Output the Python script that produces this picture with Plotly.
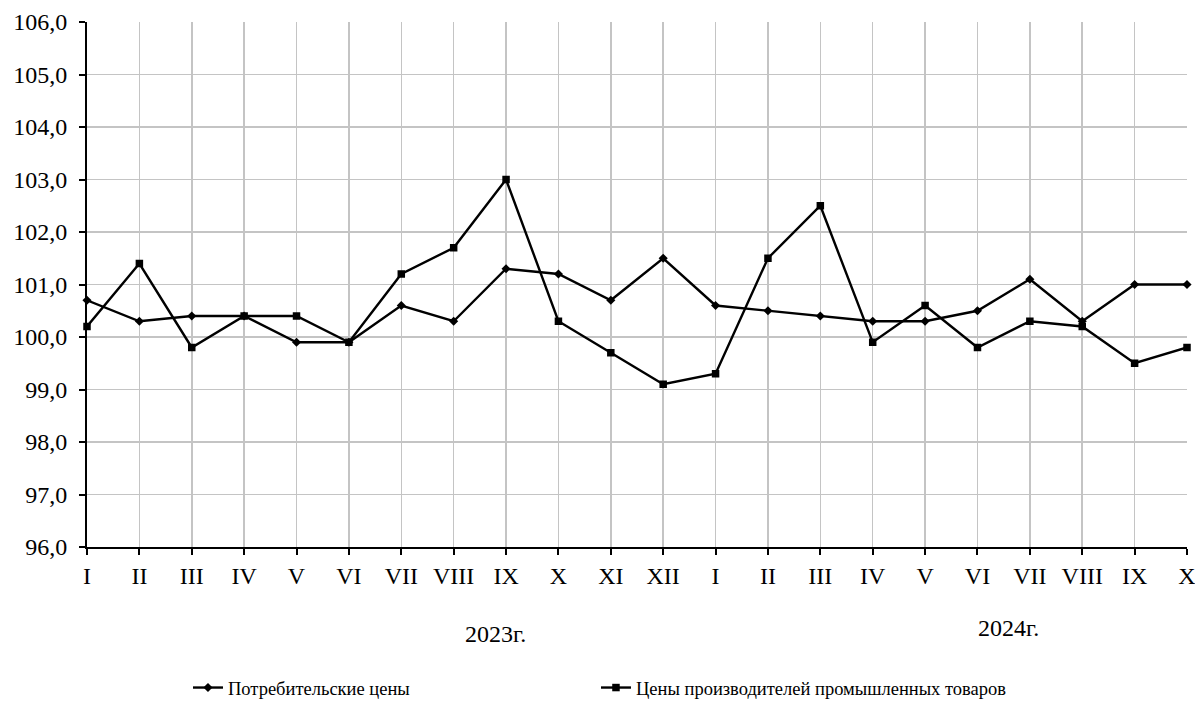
import plotly.graph_objects as go

months = ["I", "II", "III", "IV", "V", "VI", "VII", "VIII", "IX", "X", "XI", "XII",
          "I", "II", "III", "IV", "V", "VI", "VII", "VIII", "IX", "X"]
cpi = [100.7, 100.3, 100.4, 100.4, 99.9, 99.9, 100.6, 100.3, 101.3, 101.2, 100.7, 101.5,
       100.6, 100.5, 100.4, 100.3, 100.3, 100.5, 101.1, 100.3, 101.0, 101.0]
ppi = [100.2, 101.4, 99.8, 100.4, 100.4, 99.9, 101.2, 101.7, 103.0, 100.3, 99.7, 99.1,
       99.3, 101.5, 102.5, 99.9, 100.6, 99.8, 100.3, 100.2, 99.5, 99.8]
y_ticks = [96, 97, 98, 99, 100, 101, 102, 103, 104, 105, 106]
y_tick_labels = ["96,0", "97,0", "98,0", "99,0", "100,0", "101,0", "102,0", "103,0", "104,0", "105,0", "106,0"]
series_names = ["Потребительские цены", "Цены производителей промышленных товаров"]
year_labels = ["2023г.", "2024г."]

x = list(range(len(months)))
FONT = "Liberation Serif, Times New Roman, serif"

fig = go.Figure()
fig.add_trace(go.Scatter(x=x, y=cpi, mode="lines+markers", name=series_names[0],
                         line=dict(color="black", width=2.4),
                         marker=dict(symbol="diamond", size=7, color="black"),
                         cliponaxis=False, legend="legend"))
fig.add_trace(go.Scatter(x=x, y=ppi, mode="lines+markers", name=series_names[1],
                         line=dict(color="black", width=2.4),
                         marker=dict(symbol="square", size=7.5, color="black"),
                         cliponaxis=False, legend="legend2"))

legend_common = dict(orientation="h", xanchor="left", y=-0.2686, yanchor="middle",
                     font=dict(family=FONT, size=18.5), itemwidth=30,
                     bgcolor="rgba(0,0,0,0)")

fig.update_layout(
    template="none",
    width=1195, height=709,
    margin=dict(l=87, r=8, t=22, b=162, autoexpand=False),
    plot_bgcolor="white", paper_bgcolor="white",
    font=dict(family=FONT, size=22, color="black"),
    showlegend=True,
    hovermode=False,
    legend=dict(x=0.0918, **legend_common),
    legend2=dict(x=0.4627, **legend_common),
    xaxis=dict(range=[0, len(months) - 1], tickmode="array", tickvals=x, ticktext=months,
               showgrid=True, gridcolor="#c4c4c4", gridwidth=1.5,
               showline=True, linecolor="black", linewidth=2,
               ticks="outside", ticklen=6, tickcolor="black", tickwidth=2,
               zeroline=False, automargin=False, ticklabeloverflow="allow",
               tickfont=dict(family=FONT, size=24)),
    yaxis=dict(range=[96, 106], tickmode="array", tickvals=y_ticks, ticktext=y_tick_labels,
               showgrid=True, gridcolor="#c4c4c4", gridwidth=1.5,
               showline=True, linecolor="black", linewidth=2,
               ticks="outside", ticklen=6, tickcolor="black", tickwidth=2,
               zeroline=False, automargin=False, ticklabeloverflow="allow",
               ticklabelstandoff=7,
               tickfont=dict(family=FONT, size=24)),
)

fig.add_annotation(text=year_labels[0], xref="x", yref="paper", x=7.79, y=-0.1657,
                   showarrow=False, font=dict(family=FONT, size=24), yanchor="middle")
fig.add_annotation(text=year_labels[1], xref="x", yref="paper", x=17.6, y=-0.154,
                   showarrow=False, font=dict(family=FONT, size=24), yanchor="middle")

fig.write_html("out.html", config={"displayModeBar": False, "staticPlot": True},
               post_script="document.body.style.margin='0';document.body.style.overflow='hidden';")
